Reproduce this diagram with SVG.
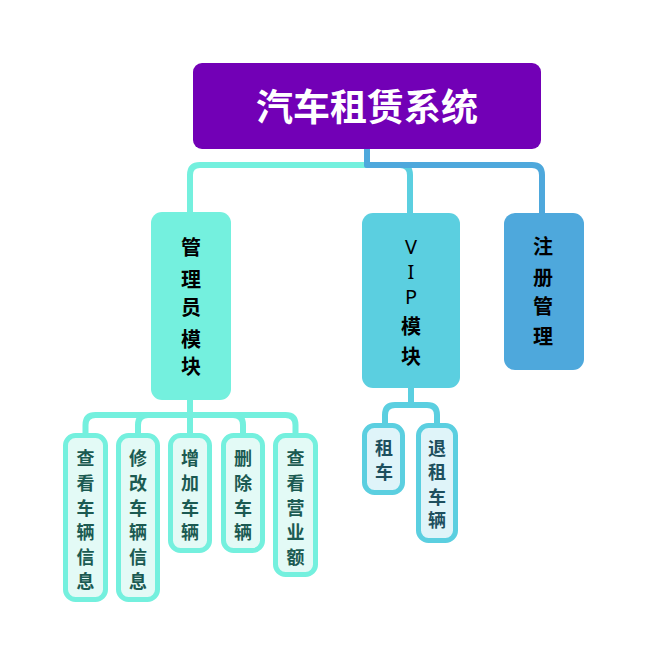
<svg xmlns="http://www.w3.org/2000/svg" width="647" height="665" viewBox="0 0 647 665">
<style>
.cn{fill:none;stroke-width:6;stroke-linejoin:round}
.g{stroke:#74F0DE}
.v{stroke:#5BCFE0}
.b{stroke:#4EA8DC}
.t{font-family:"Noto Sans CJK SC","Noto Sans",sans-serif;text-anchor:middle}
.nt{font-size:20px;font-weight:bold;fill:#000}
.lt{font-family:"Noto Sans","DejaVu Sans",sans-serif;font-size:20px;font-weight:normal;fill:#000;text-anchor:middle}
.ct{font-size:18px;font-weight:bold}
.gc{fill:#E3FAF6;stroke:#74F0DE;stroke-width:5}
.vc{fill:#DFF4F9;stroke:#5BCFE0;stroke-width:5}
.gt{fill:#1B5A52}
.vt{fill:#1D4F5E}
</style>
<rect width="647" height="665" fill="#fff"/>
<g id="connectors">
<path class="cn g" d="M367,165 H200 Q190,165 190,175 V214"/>
<path class="cn v" d="M367,149 V165 H400 Q410,165 410,175 V214"/>
<path class="cn b" d="M367,149 V165 H532 Q542,165 542,175 V214"/>
<path class="cn g" d="M190,399 V415 H95.5 Q85.5,415 85.5,425 V434"/>
<path class="cn g" d="M190,415 H148 Q138,415 138,425 V434"/>
<path class="cn g" d="M190,415 V434"/>
<path class="cn g" d="M190,415 H233 Q243,415 243,425 V434"/>
<path class="cn g" d="M190,415 H285.5 Q295.5,415 295.5,425 V434"/>
<path class="cn v" d="M411,387 V405 H395 Q385,405 385,415 V424"/>
<path class="cn v" d="M411,405 H427 Q437,405 437,415 V424"/>
</g>
<g id="root">
<rect x="193" y="63" width="348" height="86" rx="9" fill="#7200B6"/>
<text class="t" x="367" y="121" font-size="37" font-weight="bold" fill="#fff">汽车租赁系统</text>
</g>
<g id="admin">
<rect x="151" y="212" width="80" height="188" rx="11" fill="#74F0DE"/>
<text class="t nt" x="191" y="255">管</text>
<text class="t nt" x="191" y="287">理</text>
<text class="t nt" x="191" y="315">员</text>
<text class="t nt" x="191" y="347">模</text>
<text class="t nt" x="191" y="374">块</text>
</g>
<g id="vip">
<rect x="362" y="213" width="98" height="175" rx="11" fill="#5BCFE0"/>
<text class="lt" x="411" y="254">V</text>
<text class="lt" x="411" y="279">I</text>
<text class="lt" x="411" y="304">P</text>
<text class="t nt" x="411" y="334">模</text>
<text class="t nt" x="411" y="364">块</text>
</g>
<g id="register">
<rect x="504" y="213" width="80" height="157" rx="11" fill="#4EA8DC"/>
<text class="t nt" x="543" y="254">注</text>
<text class="t nt" x="543" y="285">册</text>
<text class="t nt" x="543" y="314">管</text>
<text class="t nt" x="543" y="344">理</text>
</g>
<g id="c1">
<rect class="gc" x="65.5" y="435.5" width="40" height="164" rx="10"/>
<text class="t ct gt" x="85.5" y="464.5">查</text>
<text class="t ct gt" x="85.5" y="489.5">看</text>
<text class="t ct gt" x="85.5" y="514.5">车</text>
<text class="t ct gt" x="85.5" y="539">辆</text>
<text class="t ct gt" x="85.5" y="563.5">信</text>
<text class="t ct gt" x="85.5" y="588">息</text>
</g>
<g id="c2">
<rect class="gc" x="118.5" y="435.5" width="39" height="164" rx="10"/>
<text class="t ct gt" x="138" y="464.5">修</text>
<text class="t ct gt" x="138" y="489.5">改</text>
<text class="t ct gt" x="138" y="514.5">车</text>
<text class="t ct gt" x="138" y="539">辆</text>
<text class="t ct gt" x="138" y="563.5">信</text>
<text class="t ct gt" x="138" y="588">息</text>
</g>
<g id="c3">
<rect class="gc" x="170.5" y="435.5" width="39" height="115" rx="10"/>
<text class="t ct gt" x="190" y="464.5">增</text>
<text class="t ct gt" x="190" y="489.5">加</text>
<text class="t ct gt" x="190" y="514.5">车</text>
<text class="t ct gt" x="190" y="539">辆</text>
</g>
<g id="c4">
<rect class="gc" x="223.5" y="435.5" width="39" height="115" rx="10"/>
<text class="t ct gt" x="243" y="464.5">删</text>
<text class="t ct gt" x="243" y="489.5">除</text>
<text class="t ct gt" x="243" y="514.5">车</text>
<text class="t ct gt" x="243" y="539">辆</text>
</g>
<g id="c5">
<rect class="gc" x="275.5" y="435.5" width="40" height="139" rx="10"/>
<text class="t ct gt" x="295.5" y="464.5">查</text>
<text class="t ct gt" x="295.5" y="489.5">看</text>
<text class="t ct gt" x="295.5" y="514.5">营</text>
<text class="t ct gt" x="295.5" y="539">业</text>
<text class="t ct gt" x="295.5" y="563.5">额</text>
</g>
<g id="v1">
<rect class="vc" x="364.5" y="425.5" width="38" height="67" rx="10"/>
<text class="t ct vt" x="384" y="454.5">租</text>
<text class="t ct vt" x="384" y="478.5">车</text>
</g>
<g id="v2">
<rect class="vc" x="418.5" y="425.5" width="37" height="115" rx="10"/>
<text class="t ct vt" x="437" y="454.5">退</text>
<text class="t ct vt" x="437" y="479">租</text>
<text class="t ct vt" x="437" y="503.5">车</text>
<text class="t ct vt" x="437" y="527">辆</text>
</g>
</svg>
